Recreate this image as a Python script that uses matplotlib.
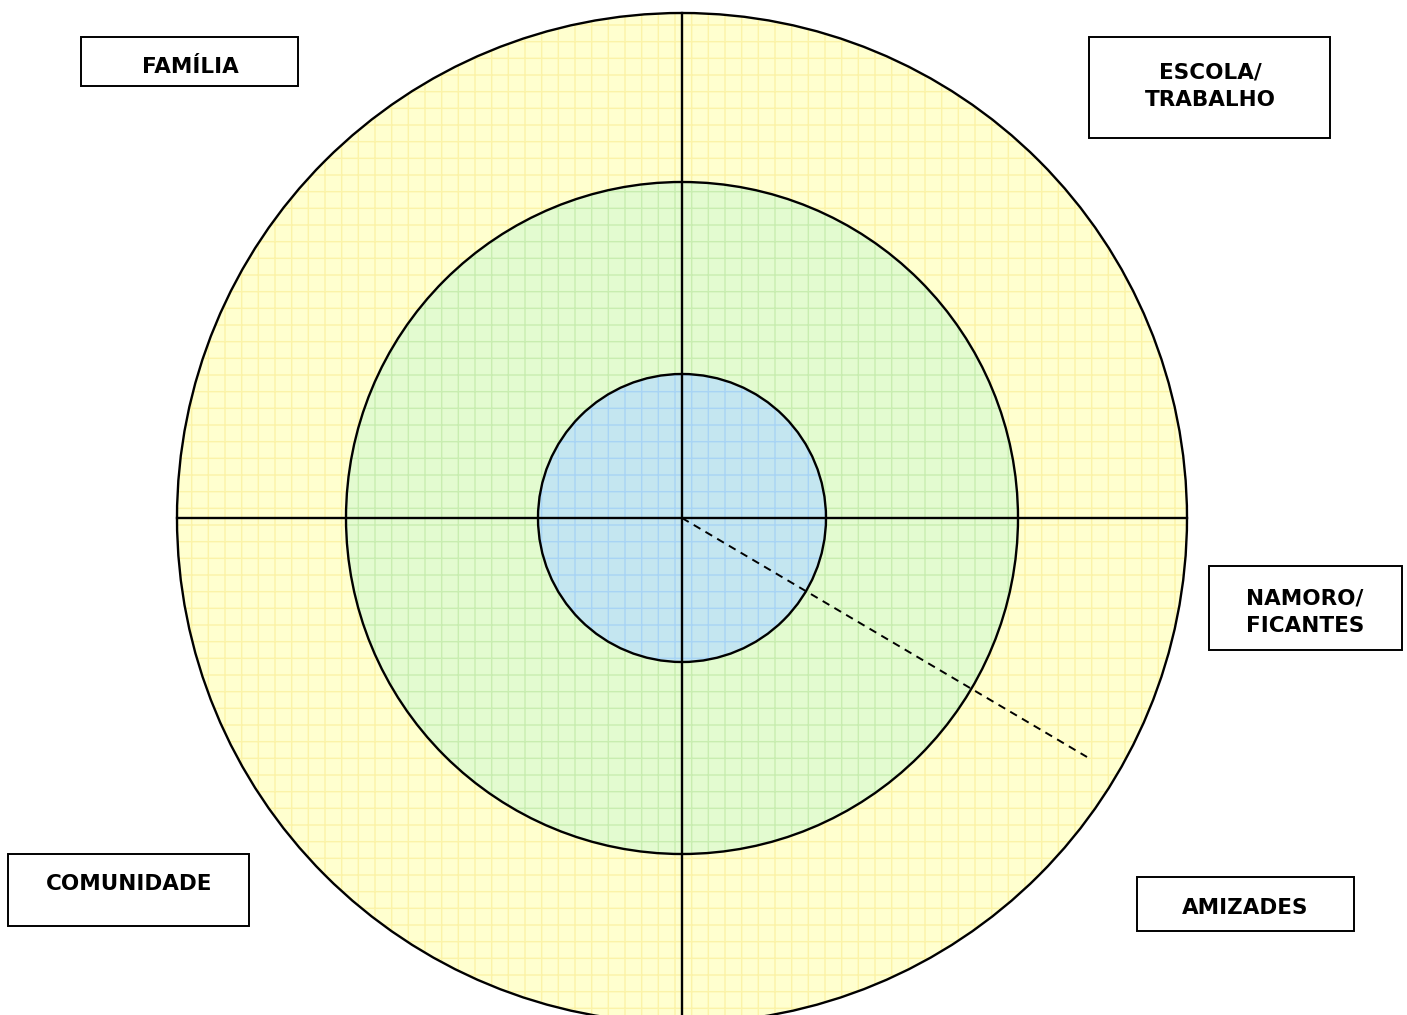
import matplotlib.pyplot as plt
from matplotlib.patches import Circle, Rectangle

# canvas in pixel units (origin top-left)
W, H = 1407, 1015
center = (682, 518)

# rings: outer -> inner
ring_radii = [505, 336, 144]
ring_fill = ["#FFFFCF", "#E3FBD0", "#C4E6F0"]
ring_grid = ["#FBF3A8", "#C8EDB0", "#A8D4F4"]

# label boxes: text, (left, top, width, height), text centre
labels = ["FAMÍLIA", "ESCOLA/\nTRABALHO", "NAMORO/\nFICANTES", "COMUNIDADE", "AMIZADES"]
boxes = [
    (81, 37, 217, 49),
    (1089, 37, 241, 101),
    (1209, 566, 193, 84),
    (8, 854, 241, 72),
    (1137, 877, 217, 54),
]
text_pos = [(190, 67), (1210, 86), (1305, 612), (129, 884), (1245, 908)]

# dashed radius end point
dash_end = (1087, 757)

fig = plt.figure(figsize=(W / 100, H / 100), dpi=100)
ax = fig.add_axes([0, 0, 1, 1])
ax.set_xlim(0, W)
ax.set_ylim(H, 0)
ax.set_aspect("equal")
ax.axis("off")

for r, fc, gc in zip(ring_radii, ring_fill, ring_grid):
    ax.add_patch(Circle(center, r, facecolor=fc, edgecolor="none", zorder=1))
    ax.add_patch(Circle(center, r, facecolor="none", edgecolor=gc, hatch="+",
                        linewidth=0, zorder=1))
    ax.add_patch(Circle(center, r, facecolor="none", edgecolor="black",
                        linewidth=1.7, zorder=2))

cx, cy = center
R = ring_radii[0]
ax.plot([cx - R, cx + R], [cy, cy], color="black", lw=1.7, zorder=3)
ax.plot([cx, cx], [cy - R, H + 5], color="black", lw=1.7, zorder=3)
ax.plot([cx, dash_end[0]], [cy, dash_end[1]], color="black", lw=1.4,
        ls=(0, (4, 3)), zorder=3)

for text, (x, y, w, h), (tx, ty) in zip(labels, boxes, text_pos):
    ax.add_patch(Rectangle((x, y), w, h, facecolor="white", edgecolor="black",
                           linewidth=1.4, zorder=4))
    ax.text(tx, ty, text, ha="center", va="center",
            fontsize=15.5, fontweight="bold", linespacing=1.45,
            family="DejaVu Sans", zorder=5)

fig.savefig("out.png", dpi=100)
